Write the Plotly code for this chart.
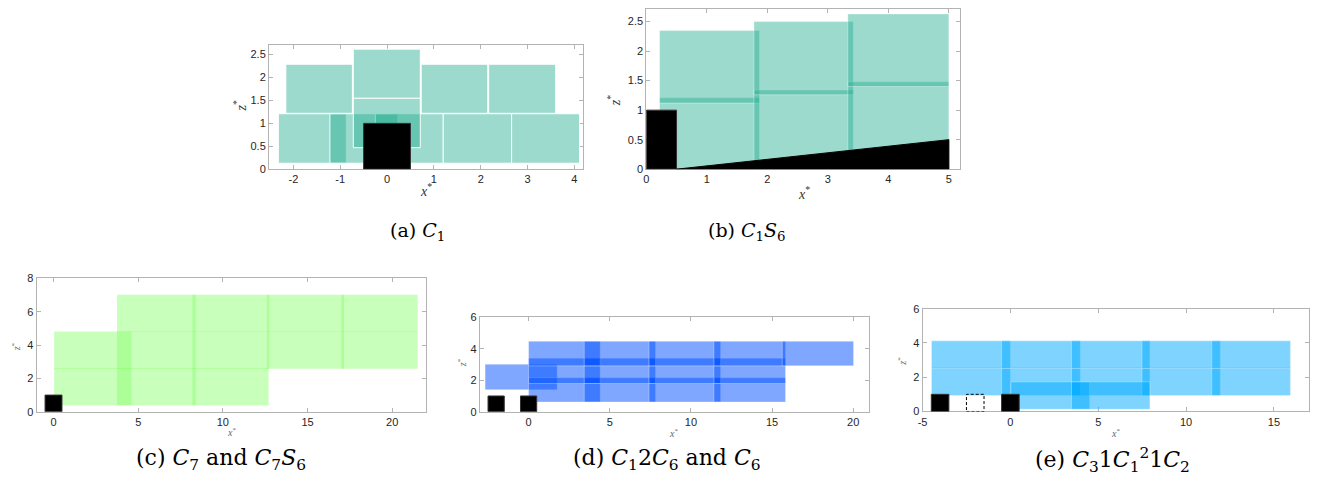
import plotly.graph_objects as go

W, H = 1328, 487

# ---------------- data ----------------
# (a) C1 : teal boxes around a single cube
a_x0 = [-2.32, -1.22, -0.25, 1.20, 2.66, -0.72, -0.72, -2.16, 0.73, 2.17]
a_x1 = [-0.87, 0.23, 1.20, 2.66, 4.11, 0.71, 0.71, -0.74, 2.15, 3.60]
a_z0 = [0.13, 0.13, 0.13, 0.13, 0.13, 0.47, 1.55, 1.22, 1.22, 1.22]
a_z1 = [1.21, 1.21, 1.21, 1.21, 1.21, 1.55, 2.62, 2.29, 2.29, 2.29]
a_cube_x = [-0.5, 0.5]
a_cube_z = [0.0, 1.0]

# (b) C1S6 : boxes over a sloping ground
b_x0 = [0.22, 0.22, 1.78, 1.78, 3.33, 3.33]
b_x1 = [1.87, 1.87, 3.42, 3.42, 5.00, 5.00]
b_z0 = [0.00, 1.12, 0.14, 1.26, 0.31, 1.40]
b_z1 = [1.21, 2.35, 1.34, 2.50, 1.48, 2.63]
b_cube_x = [0.0, 0.5]
b_cube_z = [0.0, 1.0]
b_slope_x = [0.5, 5.0, 5.0]
b_slope_z = [0.0, 0.0, 0.5]

# (c) C7 and C7S6
c_x0 = [0.04, 3.75, 8.20,
        0.04, 3.75, 8.20, 12.60, 17.00,
        3.75, 8.20, 12.60, 17.00]
c_x1 = [4.60, 8.40, 12.70,
        4.60, 8.40, 12.75, 17.15, 21.50,
        8.40, 12.75, 17.15, 21.50]
c_z0 = [0.39] * 3 + [2.58] * 5 + [4.78] * 4
c_z1 = [2.62] * 3 + [4.82] * 5 + [7.02] * 4
c_cube_x = [-0.5, 0.5]
c_cube_z = [0.0, 1.0]

# (d) C12C6 and C6
d_x0 = [-2.68,
        0.00, 3.43, 7.42, 11.42,
        0.00, 3.43, 7.42, 11.42,
        0.00, 3.43, 7.42, 11.42, 15.63]
d_x1 = [1.76,
        4.41, 7.82, 11.83, 15.83,
        4.41, 7.82, 11.83, 15.83,
        4.41, 7.82, 11.83, 15.83, 20.02]
d_z0 = [1.40] + [0.62] * 4 + [1.79] * 4 + [2.91] * 5
d_z1 = [3.01] + [2.16] * 4 + [3.40] * 4 + [4.47] * 5
d_cube_x0 = [-2.5, -0.5]
d_cube_x1 = [-1.5, 0.5]
d_cube_h = 1.0

# (e) C31C1^21C2
e_x0 = [-4.49, -0.50, 3.48, 7.49, 11.46,
        -4.49, -0.50, 3.48, 7.49, 11.46,
        0.03, 3.48]
e_x1 = [0.00, 3.98, 7.94, 11.95, 15.94,
        0.00, 3.98, 7.94, 11.95, 15.94,
        4.51, 7.94]
e_z0 = [0.93] * 5 + [2.52] * 5 + [0.13] * 2
e_z1 = [2.56] * 5 + [4.12] * 5 + [1.73] * 2
e_cube_x0 = [-4.5, -0.5]
e_cube_x1 = [-3.5, 0.5]
e_cube_h = 1.0
e_ghost_x = [-2.5, -1.5]
e_ghost_z = [0.0, 1.0]

# axis ranges and ticks
a_xr, a_zr = [-2.52, 4.18], [0, 2.71]
a_xt = [-2, -1, 0, 1, 2, 3, 4]
a_zt = [0, 0.5, 1, 1.5, 2, 2.5]
b_xr, b_zr = [0, 5.19], [0, 2.71]
b_xt = [0, 1, 2, 3, 4, 5]
b_zt = [0, 0.5, 1, 1.5, 2, 2.5]
c_xr, c_zr = [-1, 22], [0, 8]
c_xt = [0, 5, 10, 15, 20]
c_zt = [0, 2, 4, 6, 8]
d_xr, d_zr = [-3, 21], [0, 6]
d_xt = [0, 5, 10, 15, 20]
d_zt = [0, 2, 4, 6]
e_xr, e_zr = [-5, 17], [0, 6]
e_xt = [-5, 0, 5, 10, 15]
e_zt = [0, 2, 4, 6]

captions = [
    "(a) <i>C</i><sub>1</sub>",
    "(b) <i>C</i><sub>1</sub><i>S</i><sub>6</sub>",
    "(c) <i>C</i><sub>7</sub> and <i>C</i><sub>7</sub><i>S</i><sub>6</sub>",
    "(d) <i>C</i><sub>1</sub>2<i>C</i><sub>6</sub> and <i>C</i><sub>6</sub>",
    "(e) <i>C</i><sub>3</sub>1<i>C</i><sub>1</sub><sup>2</sup>1<i>C</i><sub>2</sub>",
]

# ---------------- styling ----------------
TEAL = "rgba(40,175,145,0.46)"
GREEN = "rgba(140,255,110,0.48)"
BLUE = "rgba(0,80,255,0.5)"
CYAN = "rgba(0,170,255,0.5)"
SERIF = "DejaVu Serif, Liberation Serif, serif"

# plot-area rectangles in pixels: (left, top, right, bottom)
boxes_px = {
    "a": (265, 40, 580, 167.3),
    "b": (643.7, 3.3, 959, 167.3),
    "c": (31.7, 279.3, 422.7, 416),
    "d": (476.7, 319, 867.7, 416),
    "e": (921, 310.3, 1309, 415.7),
}


def xdom(l, r):
    return [l / W, r / W]


def ydom(t, b):
    return [1 - b / H, 1 - t / H]


def fmt(v):
    return ("%g" % v)


fig = go.Figure()
shapes = []
annotations = []

panels = [
    ("a", "x", "y", a_xr, a_zr, a_xt, a_zt),
    ("b", "x2", "y2", b_xr, b_zr, b_xt, b_zt),
    ("c", "x3", "y3", c_xr, c_zr, c_xt, c_zt),
    ("d", "x4", "y4", d_xr, d_zr, d_xt, d_zt),
    ("e", "x5", "y5", e_xr, e_zr, e_xt, e_zt),
]

layout_axes = {}
for key, xa, ya, xr, zr, xt, zt in panels:
    l, t, r, b = boxes_px[key]
    xname = "xaxis" + xa[1:]
    yname = "yaxis" + ya[1:]
    common = dict(
        showgrid=False, zeroline=False, showline=True, linecolor="#b3b3b3",
        linewidth=1, mirror="ticks", ticks="inside", ticklen=4,
        tickcolor="#b3b3b3", tickwidth=1,
        tickfont=dict(family="Liberation Sans, Arial, sans-serif", size=11,
                      color="#262626"),
        fixedrange=True,
    )
    layout_axes[xname] = dict(common, domain=xdom(l, r), range=xr,
                              tickvals=xt, ticktext=[fmt(v) for v in xt],
                              anchor=ya)
    layout_axes[yname] = dict(common, domain=ydom(t, b), range=zr,
                              tickvals=zt, ticktext=[fmt(v) for v in zt],
                              anchor=xa)
    fig.add_trace(go.Scatter(x=[None], y=[None], xaxis=xa, yaxis=ya,
                             showlegend=False, hoverinfo="skip"))


def add_boxes(xa, ya, x0s, x1s, z0s, z1s, fill, edge):
    for x0, x1, z0, z1 in zip(x0s, x1s, z0s, z1s):
        shapes.append(dict(type="rect", xref=xa, yref=ya, x0=x0, x1=x1,
                           y0=z0, y1=z1, fillcolor=fill,
                           line=dict(color=edge, width=1), layer="above"))


def add_block(xa, ya, x0, x1, z0, z1, dash=None):
    if dash:
        shapes.append(dict(type="rect", xref=xa, yref=ya, x0=x0, x1=x1,
                           y0=z0, y1=z1, fillcolor="rgba(0,0,0,0)",
                           line=dict(color="black", width=1, dash=dash),
                           layer="above"))
    else:
        shapes.append(dict(type="rect", xref=xa, yref=ya, x0=x0, x1=x1,
                           y0=z0, y1=z1, fillcolor="black",
                           line=dict(color="#333333", width=1), layer="above"))


# (a)
add_boxes("x", "y", a_x0, a_x1, a_z0, a_z1, TEAL, "rgba(255,255,255,0.95)")
add_block("x", "y", a_cube_x[0], a_cube_x[1], a_cube_z[0], a_cube_z[1])

# (b)
add_boxes("x2", "y2", b_x0, b_x1, b_z0, b_z1, TEAL, "rgba(255,255,255,0.35)")
add_block("x2", "y2", b_cube_x[0], b_cube_x[1], b_cube_z[0], b_cube_z[1])
slope_path = "M " + " L ".join("%g,%g" % (px, pz) for px, pz in zip(b_slope_x, b_slope_z)) + " Z"
shapes.append(dict(type="path", xref="x2", yref="y2", path=slope_path,
                   fillcolor="black", line=dict(color="black", width=1),
                   layer="above"))

# (c)
add_boxes("x3", "y3", c_x0, c_x1, c_z0, c_z1, GREEN, "rgba(255,255,255,0)")
add_block("x3", "y3", c_cube_x[0], c_cube_x[1], c_cube_z[0], c_cube_z[1])

# (d)
add_boxes("x4", "y4", d_x0, d_x1, d_z0, d_z1, BLUE, "rgba(255,255,255,0.3)")
for x0, x1 in zip(d_cube_x0, d_cube_x1):
    add_block("x4", "y4", x0, x1, 0, d_cube_h)

# (e)
add_boxes("x5", "y5", e_x0, e_x1, e_z0, e_z1, CYAN, "rgba(255,255,255,0.3)")
for x0, x1 in zip(e_cube_x0, e_cube_x1):
    add_block("x5", "y5", x0, x1, 0, e_cube_h)
add_block("x5", "y5", e_ghost_x[0], e_ghost_x[1], e_ghost_z[0], e_ghost_z[1],
          dash="3px,2px")


def ann(text, px, py, size, color="black", family=SERIF, angle=0):
    annotations.append(dict(text=text, x=px / W, y=1 - py / H, xref="paper",
                            yref="paper", showarrow=False, xanchor="center",
                            yanchor="middle", textangle=angle,
                            font=dict(family=family, size=size, color=color)))


# axis labels
xlab = "<i>x</i><sup>*</sup>"
zlab = "<i>z</i><sup>*</sup>"
LBL = "Liberation Serif, serif"
ann(xlab, 423, 189, 14, "#333333", LBL)
ann(zlab, 236, 103, 14, "#333333", LBL, angle=-90)
ann(xlab, 802, 192, 14, "#333333", LBL)
ann(zlab, 611, 97, 14, "#333333", LBL, angle=-90)
ann(xlab, 227, 437, 10, "#666666", LBL)
ann(zlab, 11, 349, 10, "#666666", LBL, angle=-90)
ann(xlab, 671, 438, 10, "#666666", LBL)
ann(zlab, 459, 366, 10, "#666666", LBL, angle=-90)
ann(xlab, 1115, 438, 10, "#666666", LBL)
ann(zlab, 900, 364, 10, "#666666", LBL, angle=-90)

# sub-figure captions
cap_pos = [(414, 231), (745, 231), (217, 465), (665, 465), (1112, 465)]
cap_size = [19, 19, 22, 22, 22]
for text, (px, py), sz in zip(captions, cap_pos, cap_size):
    ann(text, px, py, sz)

fig.update_layout(
    width=W, height=H, margin=dict(l=0, r=0, t=0, b=0),
    paper_bgcolor="white", plot_bgcolor="white",
    shapes=shapes, annotations=annotations, showlegend=False,
    **layout_axes,
)

fig.write_html("out.html", config={"displayModeBar": False})
